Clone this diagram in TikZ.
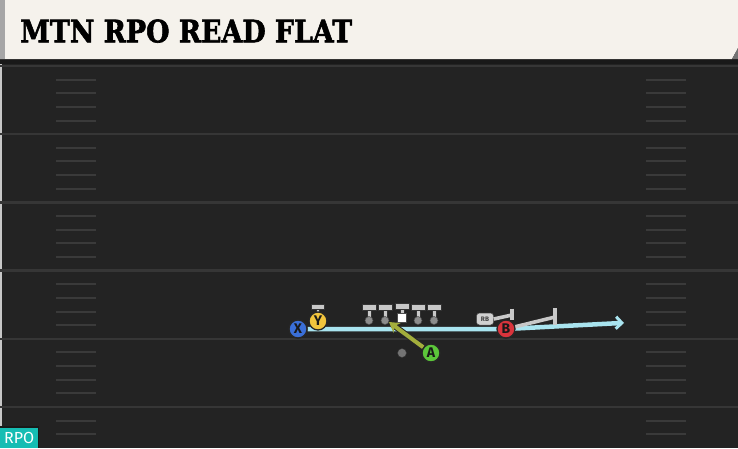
\documentclass[tikz,border=0pt]{standalone}
\usepackage{fontspec}
\setmainfont{DejaVu Serif}
\newfontfamily\titlefont{DejaVu Serif}[BoldFeatures={FakeBold=2}]
\newfontfamily\plfont{Fira Sans}
\usetikzlibrary{arrows.meta}
\definecolor{fieldbg}{HTML}{232323}
\definecolor{yardln}{HTML}{363636}
\definecolor{hashln}{HTML}{3A3A3A}
\definecolor{cream}{HTML}{F5F2EC}
\definecolor{routecyan}{HTML}{A9E4EF}
\definecolor{olive}{HTML}{A3AE3C}
\definecolor{pblue}{HTML}{3A6FD8}
\definecolor{pyellow}{HTML}{F2C53D}
\definecolor{pgreen}{HTML}{5CC73A}
\definecolor{pred}{HTML}{D9343C}
\definecolor{lgray}{HTML}{C8C8C8}
\definecolor{rpoteal}{HTML}{16BDB3}
\tikzset{
  player/.style={circle, draw=black!85, line width=1.3pt, minimum size=18pt, inner sep=0pt,
    font=\plfont\bfseries\fontsize{14}{14}\selectfont, text=black!90},
  yard/.style={draw=yardln, line width=2.4pt},
  hash/.style={draw=hashln, line width=2pt},
  lineman/.style={fill=lgray, draw=black!80, line width=0.6pt},
  blockln/.style={draw=lgray, line width=3.6pt},
}
\begin{document}
\begin{tikzpicture}[x=1pt,y=-1pt]
\useasboundingbox (0,0) rectangle (738,448);
\fill[fieldbg] (0,0) rectangle (738,448);
\fill[black!22] (0,60) rectangle (2,448);
% header
\fill[black!90] (0,58) rectangle (738,64);
\fill[cream] (0,0) -- (738,0) -- (738,48) -- (732,59) -- (0,59) -- cycle;
\fill[black!55] (738,48) -- (738,59) -- (732,59) -- cycle;
\fill[black!35] (0,0) rectangle (5,59);
\node[anchor=south west, inner sep=0pt] (title) at (20,43)
  {\resizebox{332pt}{23pt}{\titlefont\bfseries MTN RPO READ FLAT}};
% yard lines and hashes
\foreach \k in {0,...,5}{
  \pgfmathsetmacro{\yy}{66+68.2*\k}
  \draw[yard] (0,\yy) -- (738,\yy);
  \foreach \j in {1,...,4}{
    \pgfmathsetmacro{\hy}{\yy+13.64*\j}
    \ifdim \hy pt < 446pt
      \draw[hash] (56,\hy) -- (96,\hy);
      \draw[hash] (646,\hy) -- (686,\hy);
    \fi
  }
}
% players
\node[player, fill=pblue] (X) at (298,329) {X};
\node[player, fill=pyellow] (Y) at (318,321) {Y};
\node[player, fill=pgreen] (A) at (431,353) {A};
\node[player, fill=pred] (B) at (506,329) {B};
\node[circle, fill=black!55, draw=black!80, minimum size=9pt, inner sep=0pt] (QB) at (402,353) {};
\coordinate (routeEnd) at (624,323);
% Y stance marker
\fill[lineman] (316.5,308) rectangle (319.5,313);
\node[lineman, minimum width=13pt, minimum height=5pt, inner sep=0pt] (Ybar) at (318,307) {};
% linemen
\foreach \n/\x in {LT/369,LG/385,RG/418,RT/434}{
  \fill[lineman] (\x-2.2,309) rectangle (\x+2.2,319);
  \fill[lineman] (\x-7,304.5) rectangle (\x+7,310);
  \node[circle, fill=lgray!70!black, draw=black!70, line width=0.5pt, minimum size=8pt, inner sep=0pt] (\n) at (\x,320.5) {};
}
\fill[lineman] (400,308) rectangle (404,314);
\fill[lineman] (395,303.5) rectangle (409,309);
\node[fill=white, draw=black!70, line width=0.4pt, minimum size=9pt, inner sep=0pt] (C) at (402,318) {};
% RB block
\node[fill=lgray!85, draw=black!70, line width=0.5pt, rounded corners=3pt, minimum width=17pt, minimum height=12pt,
  inner sep=0pt, font=\plfont\bfseries\fontsize{6.5}{6.5}\selectfont, text=black!75] (RB) at (485,319) {RB};
\coordinate (rbBar) at (512,315);
\coordinate (bBar) at (555,317);
\draw[blockln] (RB.east) -- (rbBar);
\draw[lgray, line width=3.5pt] (512,308.5) -- (512,320);
% route
\draw[black!85, line width=6.5pt] (X) -- (B.center) -- ([xshift=-3pt]routeEnd);
\draw[routecyan, line width=4.5pt] (X) -- (B.center) -- ([xshift=-3pt]routeEnd);
\draw[routecyan, line width=3pt, -{Straight Barb[length=6pt,width=12pt,line width=3pt]}] ([xshift=-10pt,yshift=0.4pt]routeEnd) -- (routeEnd);
\draw[blockln] (B.center) -- (bBar);
\draw[lgray, line width=3.5pt] (555,308) -- (555,325);
% olive read arrow
\coordinate (readTip) at (389,322);
\draw[black!85, line width=6pt, shorten >=4pt] (A) -- (readTip);
\draw[olive, line width=4pt, -{Stealth[length=10pt,width=12pt]}] (A) -- (readTip);
% redraw players on top
\node[player, fill=pblue] at (X) {X};
\node[player, fill=pyellow] at (Y) {Y};
\node[player, fill=pgreen] at (A) {A};
\node[player, fill=pred] at (B) {B};
% RPO tag
\fill[black!90] (0,426) rectangle (39,448);
\node[fill=rpoteal, anchor=south west, minimum width=38pt, minimum height=20pt, inner sep=0pt,
  text=white, font=\plfont\fontsize{16}{16}\selectfont] (rpo) at (0,448) {RPO};
\end{tikzpicture}
\end{document}
